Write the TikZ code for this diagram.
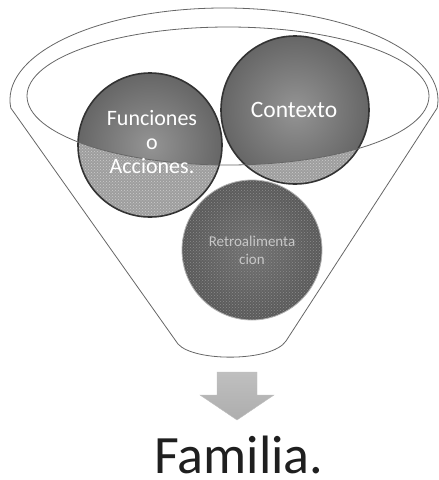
\documentclass[tikz,border=0pt]{standalone}
\usepackage{fontspec}
\setmainfont{Carlito}
\usepackage{tikz}
\usetikzlibrary{patterns}

\begin{document}
\begin{tikzpicture}[x=1pt, y=-1pt]
    \tikzstyle{funnel}=[draw=black!60, line width=0.8pt]
    \tikzstyle{ball}=[circle, inner color=black!42, outer color=black!60, minimum size=144pt]
    \tikzstyle{rim}=[draw=black!80, line width=1.6pt]
    \tikzstyle{label}=[text=white, font=\fontsize{22}{24}\selectfont, align=center]
    \useasboundingbox (0,0) rectangle (439,480);
    \draw[funnel] (10.8,108) arc[start angle=185, end angle=-5, x radius=214pt, y radius=92pt]
        -- (286,341) .. controls (272,362) and (194,362) .. (178,344) -- cycle;
    \draw (150,145) node[ball] (funciones) {};
    \draw (295,110) node[ball, minimum size=148pt] (contexto) {};
    \draw (252,250) node[ball, inner color=black!55, outer color=black!65, minimum size=140pt] (retro) {};
    % lower halves, below the rim of the funnel
    \begin{scope}
        \clip (funciones.center) circle[radius=72pt] (contexto.center) circle[radius=74pt];
        \fill[black!38, even odd rule] (0,0) rectangle (439,480)
            (228,96) ellipse[x radius=201pt, y radius=69pt];
        \fill[pattern=crosshatch dots, pattern color=white!80!black, even odd rule] (0,0) rectangle (439,480)
            (228,96) ellipse[x radius=201pt, y radius=69pt];
    \end{scope}
    \fill[pattern=crosshatch dots, pattern color=black!45] (retro.center) circle[radius=70pt];
    \draw[rim] (funciones.center) circle[radius=72pt];
    \draw[rim] (contexto.center) circle[radius=74pt];
    \draw[draw=black!30, line width=0.8pt] (retro.center) circle[radius=70pt];
    \draw[funnel] (228,96) ellipse[x radius=201pt, y radius=69pt];
    \draw (152,142) node[label] (funtext) {Funciones\\o\\Acciones.};
    \draw (294,110) node[label, font=\fontsize{23.5}{26}\selectfont] (context) {Contexto};
    \draw (252,250) node[label, text=white!78!black, font=\fontsize{15}{18}\selectfont] (retrotext) {Retroalimenta\\cion};
    \shade[top color=black!25, middle color=black!5, bottom color=black!32, draw=black!25]
        (217,372) -- (257,372) -- (257,395) -- (274,395) -- (237,420) -- (200,395) -- (217,395) -- cycle;
    \draw (239,473) node[anchor=base, inner sep=0pt, text=black!88, font=\fontsize{54}{60}\selectfont] (familia) {Familia.};
\end{tikzpicture}
\end{document}
